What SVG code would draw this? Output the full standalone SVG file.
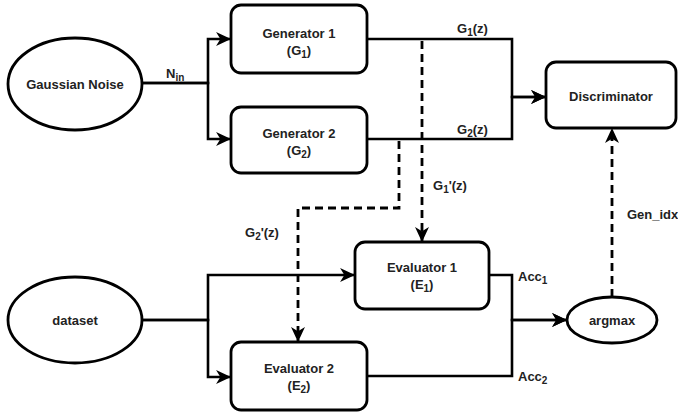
<svg xmlns="http://www.w3.org/2000/svg" width="678" height="420" viewBox="0 0 678 420">
<style>
.box{fill:#fff;stroke:#000;stroke-width:2.8}
.ln{fill:none;stroke:#000;stroke-width:2.6}
.dash{fill:none;stroke:#000;stroke-width:2.8;stroke-dasharray:8 5}
text{font-family:"Liberation Sans",Arial,sans-serif;font-weight:bold;font-size:13px;fill:#222}
.c{text-anchor:middle}
.s{font-size:10px}
</style>
<defs>
<marker id="ah" markerUnits="userSpaceOnUse" viewBox="0 0 14 13" refX="13" refY="6.5" markerWidth="15" markerHeight="14" orient="auto">
<path d="M0,0 L14,6.5 L0,13 L4,6.5 Z" fill="#000"/>
</marker>
</defs>
<rect width="678" height="420" fill="#fff"/>
<g id="connectors">
<path class="ln" d="M142,83 H208 V39 H230" marker-end="url(#ah)"/>
<path class="ln" d="M142,83 H208 V139 H230" marker-end="url(#ah)"/>
<path class="ln" d="M367,39 H512 V97 H545" marker-end="url(#ah)"/>
<path class="ln" d="M367,139 H512 V97 H545" marker-end="url(#ah)"/>
<path class="dash" d="M422,41 V241" marker-end="url(#ah)"/>
<path class="dash" d="M399,141 V208 H298 V341" marker-end="url(#ah)"/>
<path class="ln" d="M142,320 H208 V275 H354" marker-end="url(#ah)"/>
<path class="ln" d="M142,320 H208 V377 H230" marker-end="url(#ah)"/>
<path class="ln" d="M489,275 H512 V320 H566" marker-end="url(#ah)"/>
<path class="ln" d="M367,376 H512 V320 H566" marker-end="url(#ah)"/>
<path class="dash" d="M612,297 V129" marker-end="url(#ah)"/>
<text x="166" y="78">N<tspan class="s" dy="3">in</tspan></text>
<text x="457" y="33">G<tspan class="s" dy="3">1</tspan><tspan dy="-3">(z)</tspan></text>
<text x="457" y="134">G<tspan class="s" dy="3">2</tspan><tspan dy="-3">(z)</tspan></text>
<text x="433" y="190">G<tspan class="s" dy="3">1</tspan><tspan dy="-3">'(z)</tspan></text>
<text x="245" y="237">G<tspan class="s" dy="3">2</tspan><tspan dy="-3">'(z)</tspan></text>
<text x="518" y="281">Acc<tspan class="s" dy="3">1</tspan></text>
<text x="518" y="381">Acc<tspan class="s" dy="3">2</tspan></text>
<text x="627" y="219">Gen_idx</text>
</g>
<g id="gaussian">
<ellipse class="box" cx="75" cy="84" rx="67" ry="46"/>
<text class="c" x="75" y="89">Gaussian Noise</text>
</g>
<g id="generator1">
<rect class="box" x="231" y="5" width="136" height="68" rx="10"/>
<text class="c" x="299" y="38">Generator 1</text>
<text class="c" x="299" y="55">(G<tspan class="s" dy="3">1</tspan><tspan dy="-3">)</tspan></text>
</g>
<g id="generator2">
<rect class="box" x="231" y="107" width="136" height="66" rx="10"/>
<text class="c" x="299" y="138">Generator 2</text>
<text class="c" x="299" y="155">(G<tspan class="s" dy="3">2</tspan><tspan dy="-3">)</tspan></text>
</g>
<g id="discriminator">
<rect class="box" x="546" y="62" width="130" height="66" rx="10"/>
<text class="c" x="611" y="101">Discriminator</text>
</g>
<g id="evaluator1">
<rect class="box" x="355" y="242" width="134" height="67" rx="10"/>
<text class="c" x="422" y="272">Evaluator 1</text>
<text class="c" x="422" y="289">(E<tspan class="s" dy="3">1</tspan><tspan dy="-3">)</tspan></text>
</g>
<g id="evaluator2">
<rect class="box" x="231" y="342" width="136" height="68" rx="10"/>
<text class="c" x="299" y="373">Evaluator 2</text>
<text class="c" x="299" y="390">(E<tspan class="s" dy="3">2</tspan><tspan dy="-3">)</tspan></text>
</g>
<g id="dataset">
<ellipse class="box" cx="75" cy="320" rx="67" ry="43"/>
<text class="c" x="75" y="325">dataset</text>
</g>
<g id="argmax">
<ellipse class="box" cx="612" cy="320" rx="45" ry="23"/>
<text class="c" x="612" y="325">argmax</text>
</g>
</svg>
